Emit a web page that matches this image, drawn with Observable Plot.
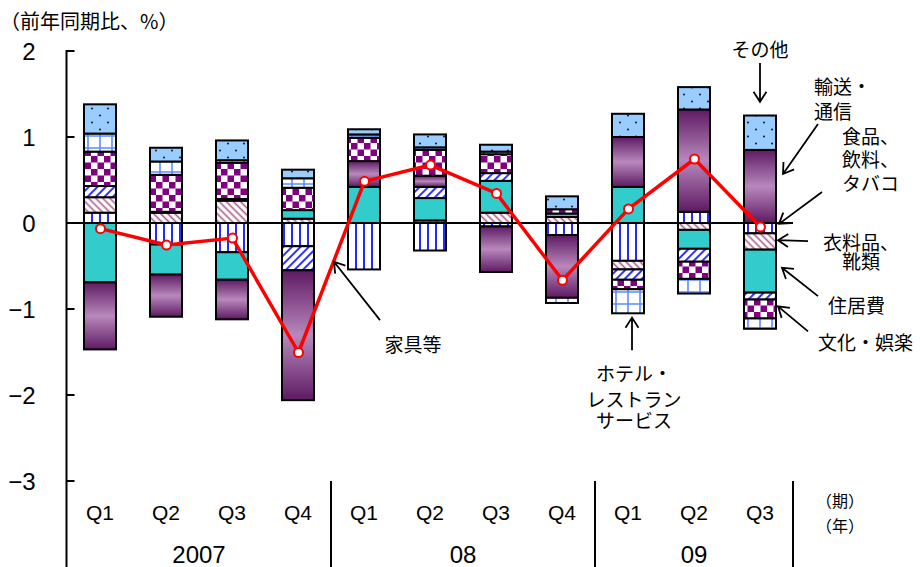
<!DOCTYPE html>
<html><head><meta charset="utf-8">
<script src="https://cdn.jsdelivr.net/npm/d3@7"></script>
<script src="https://cdn.jsdelivr.net/npm/@observablehq/plot@0.6"></script>
<style>
body{margin:0;background:#fff;}
#chart{width:920px;height:567px;}
</style></head><body><div id="chart"></div>
<script>
// ---- data ----
const periods = ["07Q1","07Q2","07Q3","07Q4","08Q1","08Q2","08Q3","08Q4","09Q1","09Q2","09Q3"];
const quarterLabels = ["Q1","Q2","Q3","Q4","Q1","Q2","Q3","Q4","Q1","Q2","Q3"];
const yearLabels = ["2007","08","09"];
const yearFirst = [0,4,8];
const yearLast = [3,7,10];
const unitLabels = ["（期）","（年）"];
const seriesNames = ["食品、飲料、タバコ","衣料品、靴類","住居費","家具等","輸送・通信","文化・娯楽","ホテル・レストランサービス","その他"];
const food      = [0.12,-0.25,-0.34,-0.27,-0.54,-0.32,-0.04,-0.14,-0.44, 0.13,-0.12];
const clothing  = [0.18, 0.12, 0.26, 0.05, 0.00, 0.03, 0.12, 0.07,-0.10,-0.08,-0.19];
const housing   = [-0.69,-0.35,-0.32,0.10, 0.42, 0.26, 0.37, 0.04, 0.42,-0.22,-0.50];
const furniture = [0.13, 0.01, 0.02,-0.28, 0.00, 0.13, 0.09, 0.00,-0.12,-0.15,-0.08];
const transport = [-0.78,-0.49,-0.46,-1.51,0.30, 0.13,-0.53,-0.73, 0.58, 1.19, 0.85];
const culture   = [0.40, 0.43, 0.42, 0.26, 0.27, 0.30, 0.22, 0.05,-0.11,-0.20,-0.22];
const hotels    = [0.21, 0.155,0.03, 0.11, 0.04, 0.03, 0.03,-0.06,-0.28,-0.17,-0.12];
const other     = [0.34, 0.16, 0.23, 0.10, 0.06, 0.15, 0.08, 0.15, 0.27, 0.26, 0.40];
const total     = [-0.06,-0.25,-0.17,-1.50,0.49, 0.68, 0.35,-0.66, 0.17, 0.75,-0.04];
const yTicks = [2,1,0,-1,-2,-3];
const yTickLabels = ["2","1","0","−1","−2","−3"];
const title = "（前年同期比、%）";

// annotations: label lines, anchor period, dx (px), y (value) per line, text anchor
const annLines   = [["その他"],["輸送・","通信"],["食品、","飲料、","タバコ"],["衣料品、","靴類"],["住居費"],["文化・娯楽"],["家具等"],["ホテル・","レストラン","サービス"]];
const annPeriod  = ["09Q3","09Q3","09Q3","09Q3","09Q3","09Q3","08Q1","09Q1"];
const annDx      = [0, 54, 82, 101, 68, 58, 49, 6];
const annYs      = [[2.01],[1.58,1.29],[1.0,0.73,0.455],[-0.235,-0.455],[-0.965],[-1.395],[-1.42],[-1.76,-2.06,-2.30]];
const annAnchor  = ["middle","start","start","middle","start","start","middle","middle"];
// arrows: anchor period, start dx, start y, end dx, end y
const arrPeriod = ["09Q3","09Q3","09Q3","09Q3","09Q3","09Q3","08Q1","09Q1"];
const arrDx1 = [0, 58, 62, 48, 58, 48, 16, 4];
const arrY1  = [1.86, 1.15, 0.36, -0.21, -0.85, -1.26, -1.13, -1.48];
const arrDx2 = [0, 23, 19, 18, 22, 18, -30, 4];
const arrY2  = [1.41, 0.57, -0.01, -0.20, -0.52, -0.97, -0.45, -1.10];

const seriesValues = [food, clothing, housing, furniture, transport, culture, hotels, other];
const fills = ["url(#pFood)","url(#pCloth)","#33cccc","url(#pFurn)","url(#gTrans)","url(#pCult)","url(#pHotel)","url(#pOther)"];

const stacked = [];
periods.forEach((p, i) => {
  seriesNames.forEach((s, k) => {
    const v = seriesValues[k][i];
    if (v !== 0) stacked.push({period: p, series: s, value: v});
  });
});
const totalData = periods.map((p, i) => ({period: p, value: total[i]}));

const CJK = "'Noto Sans CJK JP', 'Noto Sans', sans-serif";
const NUM = "'Liberation Sans Narrow', 'Liberation Sans', 'Noto Sans CJK JP', sans-serif";

function defsMark(index, scales, values, dims) {
  const g = d3.create("svg:g");
  const defs = g.append("defs");
  let p = defs.append("pattern").attr("id","pFood").attr("patternUnits","userSpaceOnUse").attr("width",8).attr("height",8);
  p.append("rect").attr("width",8).attr("height",8).attr("fill","#fff");
  p.append("line").attr("x1",4).attr("x2",4).attr("y1",0).attr("y2",8).attr("stroke","#0000ff").attr("stroke-width",1.7);
  p = defs.append("pattern").attr("id","pCloth").attr("patternUnits","userSpaceOnUse").attr("width",5).attr("height",5).attr("patternTransform","rotate(45)");
  p.append("rect").attr("width",5).attr("height",5).attr("fill","#fff");
  p.append("line").attr("x1",0).attr("x2",5).attr("y1",2.5).attr("y2",2.5).attr("stroke","#a85a86").attr("stroke-width",1.6);
  p = defs.append("pattern").attr("id","pFurn").attr("patternUnits","userSpaceOnUse").attr("width",6).attr("height",6).attr("patternTransform","rotate(-45)");
  p.append("rect").attr("width",6).attr("height",6).attr("fill","#fff");
  p.append("line").attr("x1",0).attr("x2",6).attr("y1",3).attr("y2",3).attr("stroke","#3333ff").attr("stroke-width",2);
  p = defs.append("pattern").attr("id","pCult").attr("patternUnits","userSpaceOnUse").attr("width",13).attr("height",13);
  p.append("rect").attr("width",13).attr("height",13).attr("fill","#fff");
  p.append("rect").attr("width",6.5).attr("height",6.5).attr("fill","#800080");
  p.append("rect").attr("x",6.5).attr("y",6.5).attr("width",6.5).attr("height",6.5).attr("fill","#800080");
  p = defs.append("pattern").attr("id","pHotel").attr("patternUnits","userSpaceOnUse").attr("width",12).attr("height",12);
  p.append("rect").attr("width",12).attr("height",12).attr("fill","#fff");
  p.append("path").attr("d","M4,0V12M0,4H12").attr("stroke","#5a8cff").attr("stroke-width",1.6);
  p = defs.append("pattern").attr("id","pOther").attr("patternUnits","userSpaceOnUse").attr("width",16).attr("height",14);
  p.append("rect").attr("width",16).attr("height",14).attr("fill","#99ccff");
  p.append("circle").attr("cx",4).attr("cy",3.5).attr("r",1.1).attr("fill","#223");
  p.append("circle").attr("cx",12).attr("cy",10.5).attr("r",1.1).attr("fill","#223");
  const lg = defs.append("linearGradient").attr("id","gTrans").attr("x1",0).attr("y1",0).attr("x2",0).attr("y2",1);
  lg.append("stop").attr("offset","0%").attr("stop-color","#5e1a63");
  lg.append("stop").attr("offset","50%").attr("stop-color","#b888bc");
  lg.append("stop").attr("offset","100%").attr("stop-color","#5e1a63");
  return g.node();
}

function axesMark(index, scales, values, dims) {
  const x = scales.x, y = scales.y;
  const bw = x.bandwidth();
  const g = d3.create("svg:g");
  const x0 = x(periods[0]) - 0.5;
  const xEnd = x(periods[periods.length-1]) + bw;
  g.append("line").attr("x1",x0).attr("x2",xEnd).attr("y1",y(0)).attr("y2",y(0)).attr("stroke","#000").attr("stroke-width",2);
  g.append("line").attr("x1",x0).attr("x2",x0).attr("y1",y(2)-1).attr("y2",dims.height).attr("stroke","#000").attr("stroke-width",2);
  yTicks.forEach((t, i) => {
    g.append("line").attr("x1",x0).attr("x2",x0+8).attr("y1",y(t)).attr("y2",y(t)).attr("stroke","#000").attr("stroke-width",2);
    g.append("text").attr("x",x0-31).attr("y",y(t)).attr("dy","0.36em").attr("text-anchor","end")
      .attr("font-family",NUM).attr("font-size",24).text(yTickLabels[i]);
  });
  const seps = [x(periods[4]), x(periods[8]), xEnd];
  seps.forEach(sx => g.append("line").attr("x1",sx).attr("x2",sx).attr("y1",y(-3)).attr("y2",dims.height).attr("stroke","#000").attr("stroke-width",2));
  periods.forEach((p, i) => {
    g.append("text").attr("x",x(p)+bw/2).attr("y",y(-3.36)).attr("dy","0.36em").attr("text-anchor","middle")
      .attr("font-family",NUM).attr("font-size",21).text(quarterLabels[i]);
  });
  yearLabels.forEach((lab, k) => {
    const cx = (x(periods[yearFirst[k]]) + x(periods[yearLast[k]]) + bw) / 2;
    g.append("text").attr("x",cx).attr("y",y(-3.85)).attr("dy","0.36em").attr("text-anchor","middle")
      .attr("font-family",NUM).attr("font-size",24).text(lab);
  });
  const ux = xEnd + bw/2 + 14;
  g.append("text").attr("x",ux).attr("y",y(-3.24)).attr("dy","0.36em").attr("text-anchor","middle")
    .attr("font-family",CJK).attr("font-size",16).text(unitLabels[0]);
  g.append("text").attr("x",ux).attr("y",y(-3.53)).attr("dy","0.36em").attr("text-anchor","middle")
    .attr("font-family",CJK).attr("font-size",16).text(unitLabels[1]);
  g.append("text").attr("x",0).attr("y",22).attr("dy","0.36em").attr("text-anchor","start")
    .attr("font-family",CJK).attr("font-size",20).text(title);
  return g.node();
}

function annotMark(index, scales, values, dims) {
  const x = scales.x, y = scales.y;
  const bw = x.bandwidth();
  const g = d3.create("svg:g");
  annLines.forEach((lines, i) => {
    const cx = x(annPeriod[i]) + bw/2 + annDx[i];
    lines.forEach((ln, j) => {
      g.append("text").attr("x",cx).attr("y",y(annYs[i][j])).attr("dy","0.36em")
        .attr("text-anchor",annAnchor[i]).attr("font-family",CJK).attr("font-size",19).text(ln);
    });
  });
  arrPeriod.forEach((p, i) => {
    const c = x(p) + bw/2;
    const x1 = c + arrDx1[i], y1 = y(arrY1[i]), x2 = c + arrDx2[i], y2 = y(arrY2[i]);
    const ang = Math.atan2(y2-y1, x2-x1), L = 12, a = Math.PI/5.5;
    const d = `M${x1},${y1}L${x2},${y2}M${x2-L*Math.cos(ang-a)},${y2-L*Math.sin(ang-a)}L${x2},${y2}L${x2-L*Math.cos(ang+a)},${y2-L*Math.sin(ang+a)}`;
    g.append("path").attr("d",d).attr("fill","none").attr("stroke","#000").attr("stroke-width",1.8);
  });
  return g.node();
}

const chart = Plot.plot({
  width: 920,
  height: 567,
  marginLeft: 67,
  marginRight: 61,
  marginTop: 51,
  marginBottom: 86,
  style: {background: "#fff", overflow: "visible"},
  x: {type: "band", domain: [...periods, "unit"], padding: 0, axis: null},
  y: {domain: [-3, 2], axis: null},
  color: {type: "ordinal", domain: seriesNames, range: fills},
  marks: [
    defsMark,
    Plot.barY(stacked, {x: "period", y: "value", fill: "series", stroke: "#000", strokeWidth: 2, insetLeft: 17, insetRight: 17}),
    axesMark,
    Plot.line(totalData, {x: "period", y: "value", stroke: "#ff0000", strokeWidth: 3.5}),
    Plot.dot(totalData, {x: "period", y: "value", r: 4.5, fill: "#fff", stroke: "#ff0000", strokeWidth: 2}),
    annotMark
  ]
});
document.getElementById("chart").appendChild(chart);
</script>
</body></html>
